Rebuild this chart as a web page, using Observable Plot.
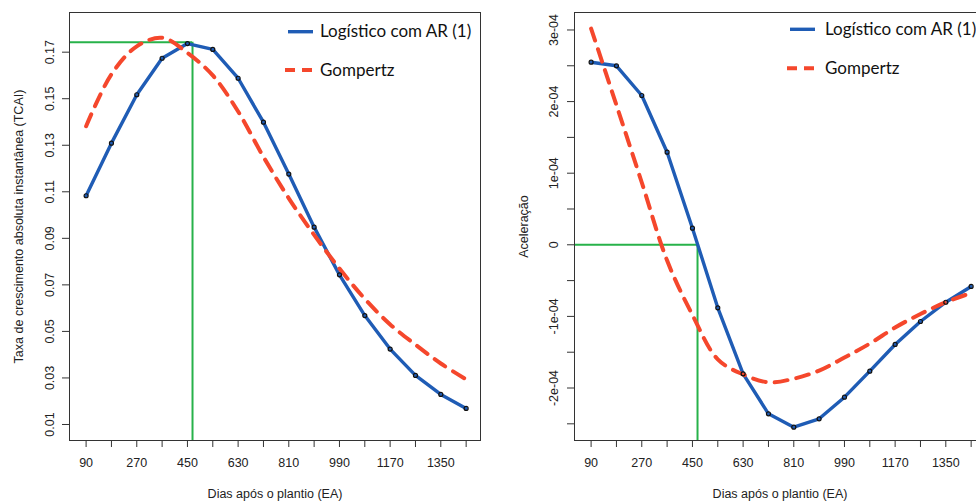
<!DOCTYPE html>
<html>
<head>
<meta charset="utf-8">
<script src="https://cdn.jsdelivr.net/npm/d3@7"></script>
<script src="https://cdn.jsdelivr.net/npm/@observablehq/plot@0.6"></script>
<style>
html, body { margin: 0; padding: 0; background: #fff; overflow: hidden; }
#wrap { position: relative; width: 976px; height: 501px; overflow: hidden; background: #fff; }
.panel { position: absolute; top: 0; width: 500px; height: 501px; }
.panel svg { max-width: none !important; display: block; }
.edge { position: absolute; background: #333; pointer-events: none; z-index: 4; }
#overlay { position: absolute; left: 0; top: 0; pointer-events: none; z-index: 5; }
</style>
</head>
<body>
<div id="wrap">
  <div class="panel" id="left" style="left:0px"></div>
  <div class="panel" id="right" style="left:500px"></div>
</div>
<script>
// ---- data ----
const days = [90, 180, 270, 360, 450, 540, 630, 720, 810, 900, 990, 1080, 1170, 1260, 1350, 1440];
const tcaiLogistico = [0.1083, 0.1309, 0.1517, 0.1674, 0.1737, 0.1712, 0.1588, 0.1399, 0.1176, 0.0948, 0.0743, 0.0568, 0.0424, 0.0311, 0.0229, 0.0169];
const tcaiGompertz  = [0.1382, 0.1605, 0.1725, 0.1762, 0.1697, 0.1600, 0.1445, 0.1250, 0.1072, 0.0915, 0.0770, 0.0640, 0.0530, 0.0443, 0.0362, 0.0294];
const acelLogistico = [2.55e-4, 2.50e-4, 2.085e-4, 1.293e-4, 0.232e-4, -0.88e-4, -1.802e-4, -2.36e-4, -2.547e-4, -2.43e-4, -2.128e-4, -1.765e-4, -1.392e-4, -1.071e-4, -0.802e-4, -0.582e-4];
const acelGompertz  = [3.02e-4, 1.95e-4, 0.87e-4, -0.22e-4, -0.98e-4, -1.60e-4, -1.81e-4, -1.92e-4, -1.87e-4, -1.756e-4, -1.574e-4, -1.38e-4, -1.155e-4, -0.966e-4, -0.802e-4, -0.673e-4];

const xTicks = days;
const xTickLabels = [90, 270, 450, 630, 810, 990, 1170, 1350];
const yTicksLeft = [0.01, 0.03, 0.05, 0.07, 0.09, 0.11, 0.13, 0.15, 0.17];
const yTicksRight = [-2.5e-4, -2e-4, -1.5e-4, -1e-4, -0.5e-4, 0, 0.5e-4, 1e-4, 1.5e-4, 2e-4, 2.5e-4, 3e-4];
const yTickLabelsRight = {"-0.0002": "-2e-04", "-0.0001": "-1e-04", "0": "0", "0.0001": "1e-04", "0.0002": "2e-04", "0.0003": "3e-04"};

const seriesNames = ["Logístico com AR (1)", "Gompertz"];
const xTitle = "Dias após o plantio (EA)";
const yTitleLeft = "Taxa de crescimento absoluta instantânea (TCAI)";
const yTitleRight = "Aceleração";

const pontoInflexao = 468;     // dias
const tcaiMaxima = 0.1743;

// ---- layout / styles ----
const BLUE = "#1f5cb5", RED = "#f5472c", GREEN = "#27b24a", INK = "#222";
const FONT = "'Liberation Sans', Arial, Helvetica, sans-serif";
const xDomain = [31, 1491];
const W = 500, H = 501, MT = 12, MB = 61, PAGE_W = 976;

const rowsL = days.map((d, i) => ({d, log: tcaiLogistico[i], gom: tcaiGompertz[i]}));
const rowsR = days.map((d, i) => ({d, log: acelLogistico[i], gom: acelGompertz[i]}));

function panel({rows, yDomain, yTicks, yFormat, yTitle, yTickPadding, marginLeft, marginRight, guideY}) {
  const chart = Plot.plot({
    width: W, height: H,
    marginTop: MT, marginBottom: MB, marginLeft, marginRight,
    style: {fontFamily: FONT, fontSize: "12.5px", color: INK, background: "#fff"},
    x: {domain: xDomain},
    y: {domain: yDomain},
    marks: [
      Plot.ruleY([guideY], {x1: xDomain[0], x2: pontoInflexao, stroke: GREEN, strokeWidth: 2}),
      Plot.ruleX([pontoInflexao], {y1: yDomain[0], y2: guideY, stroke: GREEN, strokeWidth: 2}),
      Plot.line(rows, {x: "d", y: "log", stroke: BLUE, strokeWidth: 3.4}),
      Plot.line(rows, {x: "d", y: "gom", stroke: RED, strokeWidth: 4, strokeDasharray: "13,9", curve: "catmull-rom"}),
      Plot.dot(rows, {x: "d", y: "log", r: 2, stroke: "#111", fill: "none", strokeWidth: 1.2}),
      Plot.frame({stroke: "#333", strokeWidth: 1}),
      Plot.axisX({ticks: xTicks, tickSize: 7, tickPadding: 11, label: null,
        tickFormat: d => xTickLabels.includes(d) ? String(d) : "", fontSize: 12.5, stroke: "#333"}),
      Plot.axisY({ticks: yTicks, tickSize: 7, tickPadding: yTickPadding, tickRotate: -90, label: null,
        tickFormat: yFormat, fontSize: 12.5, stroke: "#333"}),
      Plot.text([xTitle], {text: d => d, frameAnchor: "bottom", dy: 57, lineAnchor: "bottom", textAnchor: "middle", fontSize: 12.5, fill: INK}),
      Plot.text([yTitle], {text: d => d, frameAnchor: "left", dx: -51, rotate: -90, textAnchor: "middle", lineAnchor: "middle", fontSize: 12.5, fill: INK})
    ]
  });
  chart.style.maxWidth = "none";
  return chart;
}

const fmtRight = v => {
  const k = String(+v.toPrecision(6));
  return yTickLabelsRight[k] !== undefined ? yTickLabelsRight[k] : "";
};

const wrap = document.getElementById("wrap");
function edge(left, top, width, height) {
  const d = document.createElement("div");
  d.className = "edge";
  d.style.left = left + "px"; d.style.top = top + "px";
  d.style.width = width + "px"; d.style.height = height + "px";
  wrap.append(d);
}
function addPanel(id, offset, opts) {
  document.getElementById(id).append(panel(opts));
  // frame edges around the plotting area (from the layout margins), kept inside the page
  const x0 = offset + opts.marginLeft, x1 = offset + W - opts.marginRight;
  const y0 = MT, y1 = H - MB;
  const xr = Math.min(x1, PAGE_W - 1);
  edge(x0, y0, xr - x0 + 1, 1);          // top
  edge(x0, y1, xr - x0 + 1, 1);          // bottom
  edge(x0, y0, 1, y1 - y0 + 1);          // left
  if (x1 <= PAGE_W - 1) edge(x1, y0, 1, y1 - y0 + 1);   // right
}
addPanel("left", 0, {
  rows: rowsL, yDomain: [0.00312, 0.18705], yTicks: yTicksLeft, yFormat: d3.format(".2f"),
  yTitle: yTitleLeft, yTickPadding: 9, marginLeft: 69, marginRight: 20, guideY: tcaiMaxima
});
addPanel("right", 500, {
  rows: rowsR, yDomain: [-2.733e-4, 3.244e-4], yTicks: yTicksRight, yFormat: fmtRight,
  yTitle: yTitleRight, yTickPadding: 10, marginLeft: 74, marginRight: 15, guideY: 0
});

// ---- legends ----
const NS = "http://www.w3.org/2000/svg";
const overlay = document.createElementNS(NS, "svg");
overlay.setAttribute("id", "overlay");
overlay.setAttribute("width", PAGE_W); overlay.setAttribute("height", H);
function el(tag, attrs, text) {
  const e = document.createElementNS(NS, tag);
  for (const k in attrs) e.setAttribute(k, attrs[k]);
  if (text) e.textContent = text;
  overlay.append(e);
}
const legends = [
  {x1: 288, x2: 313, xr1: 285, tx: 320, y1: 31.7, b1: 37, y2: 70, b2: 75.5},
  {x1: 790, x2: 815, xr1: 787, tx: 825, y1: 29.3, b1: 35, y2: 68.3, b2: 74}
];
for (const L of legends) {
  el("line", {x1: L.x1, x2: L.x2, y1: L.y1, y2: L.y1, stroke: BLUE, "stroke-width": 3.4});
  el("line", {x1: L.xr1, x2: L.x2, y1: L.y2, y2: L.y2, stroke: RED, "stroke-width": 4, "stroke-dasharray": "10,7"});
  el("text", {x: L.tx, y: L.b1, "font-family": "Lato, 'Open Sans', sans-serif", "font-size": 17, fill: "#111"}, seriesNames[0]);
  el("text", {x: L.tx, y: L.b2, "font-family": "Lato, 'Open Sans', sans-serif", "font-size": 17, fill: "#111"}, seriesNames[1]);
}
wrap.append(overlay);
</script>
</body>
</html>
